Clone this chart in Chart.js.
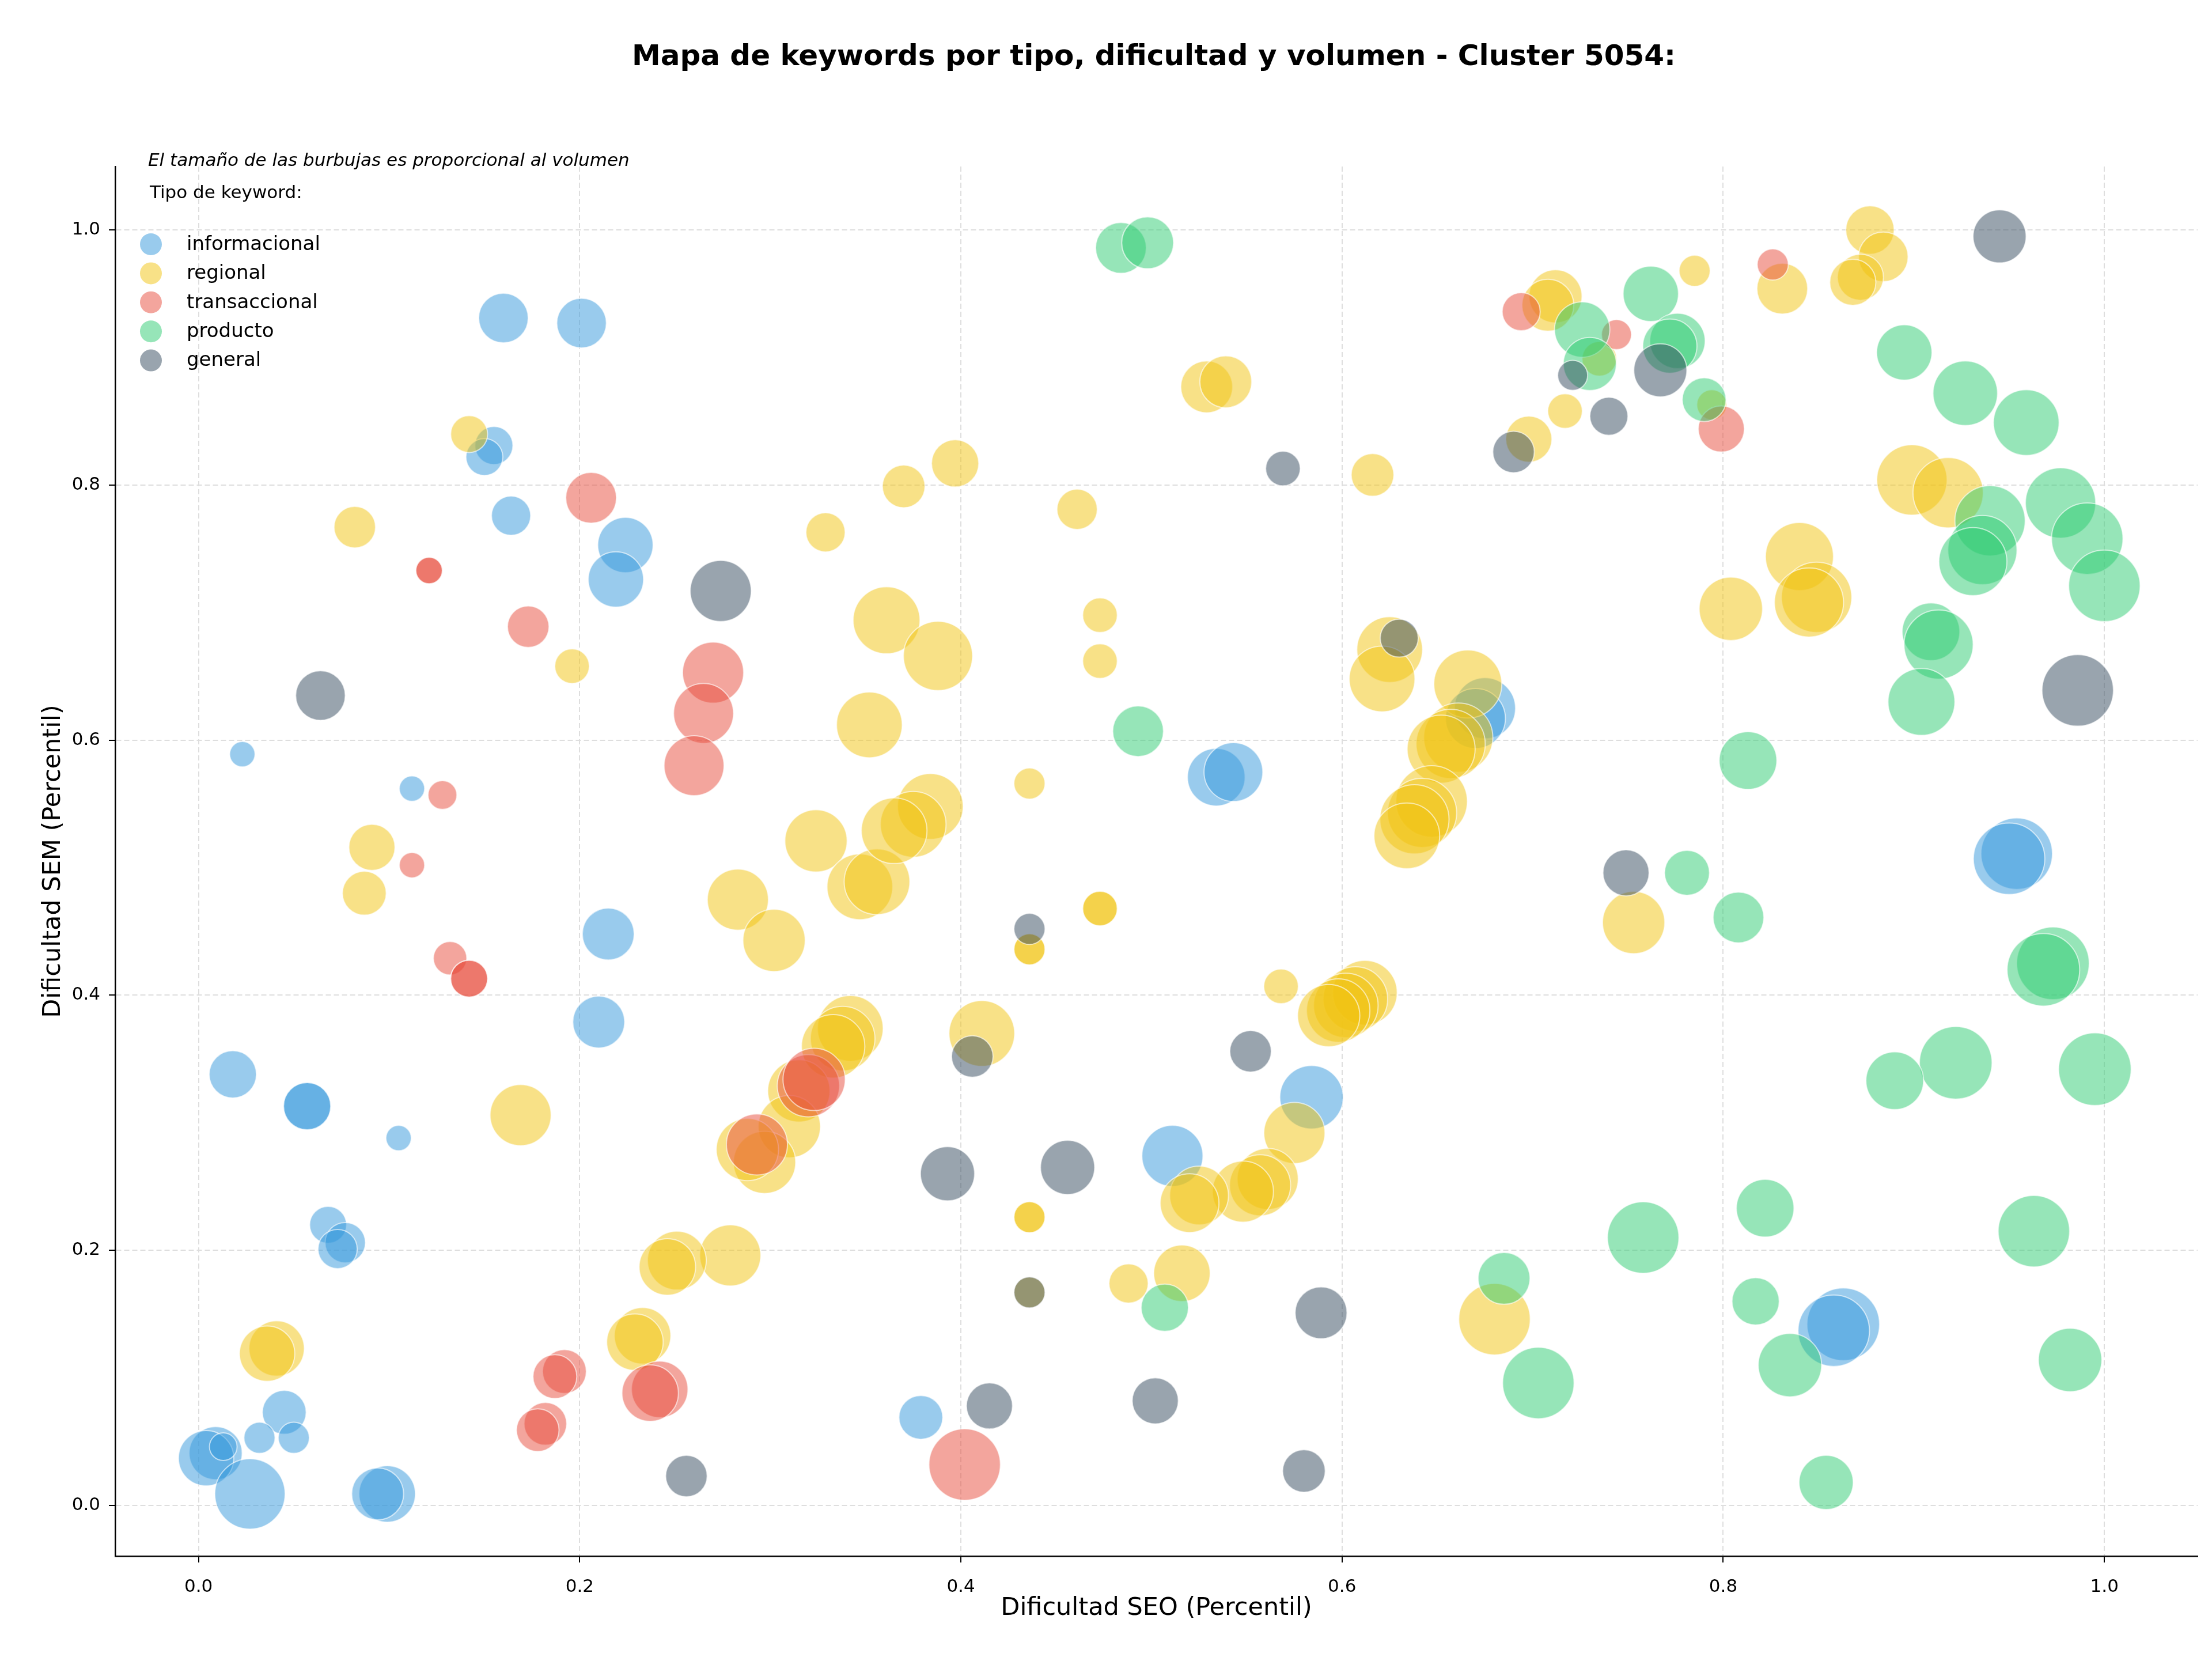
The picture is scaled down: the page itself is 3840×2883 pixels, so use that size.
<!DOCTYPE html>
<html>
<head>
<meta charset="utf-8">
<script src="https://cdn.jsdelivr.net/npm/chart.js@4.4.0/dist/chart.umd.min.js"></script>
<style>
  html, body { margin: 0; padding: 0; background: #fff; overflow: hidden; }
  canvas { display: block; }
</style>
</head>
<body>
<canvas id="keywordChart" width="3840" height="2883"></canvas>
<script>
// Mapa de keywords - Cluster 5054
const titulo = 'Mapa de keywords por tipo, dificultad y volumen - Cluster 5054:';
const nota = 'El tamaño de las burbujas es proporcional al volumen';
const tipos = ['informacional', 'regional', 'transaccional', 'producto', 'general'];
const xTicks = [0, 0.2, 0.4, 0.6, 0.8, 1.0];
const yTicks = [0, 0.2, 0.4, 0.6, 0.8, 1.0];

// informacional
const infoSeo = [0.160, 0.201, 0.155, 0.150, 0.164, 0.224, 0.219, 0.023, 0.112, 0.534, 0.543, 0.675, 0.670, 0.954, 0.950, 0.215, 0.210, 0.018, 0.057, 0.057, 0.105, 0.068, 0.077, 0.073, 0.584, 0.511, 0.863, 0.858, 0.379, 0.045, 0.032, 0.050, 0.009, 0.004, 0.013, 0.027, 0.099, 0.094];
const infoSem = [0.931, 0.927, 0.831, 0.822, 0.776, 0.753, 0.726, 0.589, 0.562, 0.571, 0.575, 0.625, 0.617, 0.511, 0.507, 0.448, 0.379, 0.338, 0.313, 0.313, 0.288, 0.220, 0.206, 0.201, 0.320, 0.274, 0.142, 0.137, 0.069, 0.073, 0.053, 0.053, 0.041, 0.037, 0.046, 0.009, 0.009, 0.009];
const infoVol = [462, 462, 272, 256, 289, 576, 576, 121, 121, 625, 650, 702, 676, 961, 961, 506, 506, 420, 420, 420, 121, 256, 306, 289, 756, 702, 992, 961, 361, 361, 182, 182, 529, 576, 144, 930, 600, 506];

// regional
const regSeo = [0.142, 0.082, 0.329, 0.196, 0.091, 0.324, 0.529, 0.539, 0.616, 0.397, 0.370, 0.461, 0.361, 0.388, 0.352, 0.473, 0.473, 0.436, 0.625, 0.621, 0.666, 0.661, 0.657, 0.652, 0.647, 0.642, 0.638, 0.634, 0.877, 0.884, 0.872, 0.868, 0.831, 0.785, 0.712, 0.708, 0.735, 0.717, 0.794, 0.698, 0.899, 0.918, 0.840, 0.849, 0.845, 0.804, 0.753, 0.680, 0.473, 0.473, 0.436, 0.436, 0.411, 0.568, 0.612, 0.607, 0.602, 0.598, 0.593, 0.575, 0.561, 0.557, 0.548, 0.525, 0.520, 0.436, 0.436, 0.436, 0.488, 0.516, 0.347, 0.356, 0.384, 0.375, 0.365, 0.342, 0.338, 0.333, 0.315, 0.310, 0.297, 0.288, 0.087, 0.283, 0.302, 0.169, 0.279, 0.251, 0.246, 0.041, 0.036, 0.233, 0.229];
const regSem = [0.840, 0.767, 0.763, 0.658, 0.516, 0.521, 0.877, 0.881, 0.808, 0.817, 0.799, 0.781, 0.694, 0.666, 0.612, 0.698, 0.662, 0.566, 0.671, 0.648, 0.644, 0.602, 0.597, 0.593, 0.552, 0.543, 0.538, 0.525, 1.000, 0.979, 0.963, 0.959, 0.954, 0.968, 0.948, 0.941, 0.899, 0.858, 0.863, 0.836, 0.804, 0.794, 0.744, 0.712, 0.708, 0.703, 0.457, 0.146, 0.468, 0.468, 0.436, 0.436, 0.370, 0.407, 0.402, 0.397, 0.392, 0.388, 0.384, 0.292, 0.256, 0.251, 0.246, 0.243, 0.237, 0.226, 0.226, 0.167, 0.174, 0.182, 0.485, 0.489, 0.548, 0.534, 0.529, 0.374, 0.366, 0.360, 0.325, 0.297, 0.269, 0.279, 0.480, 0.475, 0.443, 0.306, 0.196, 0.192, 0.187, 0.123, 0.119, 0.133, 0.128];
const regVol = [256, 324, 289, 225, 400, 729, 506, 506, 342, 420, 342, 306, 841, 900, 812, 225, 225, 182, 812, 812, 870, 900, 900, 870, 961, 900, 900, 812, 441, 462, 400, 400, 484, 182, 529, 506, 225, 225, 169, 400, 930, 930, 870, 930, 900, 756, 729, 961, 225, 225, 182, 182, 812, 225, 784, 784, 784, 756, 729, 702, 702, 702, 702, 650, 650, 182, 182, 182, 289, 600, 812, 812, 812, 812, 812, 812, 784, 756, 729, 729, 729, 729, 361, 702, 729, 702, 702, 650, 600, 576, 576, 600, 600];

// transaccional
const transSeo = [0.206, 0.121, 0.121, 0.173, 0.270, 0.265, 0.260, 0.128, 0.112, 0.132, 0.142, 0.142, 0.320, 0.323, 0.293, 0.192, 0.187, 0.242, 0.237, 0.182, 0.178, 0.402, 0.694, 0.826, 0.744, 0.799];
const transSem = [0.790, 0.733, 0.733, 0.689, 0.653, 0.621, 0.580, 0.557, 0.502, 0.429, 0.413, 0.413, 0.329, 0.334, 0.283, 0.105, 0.101, 0.091, 0.088, 0.064, 0.059, 0.032, 0.936, 0.973, 0.918, 0.844];
const transVol = [484, 132, 132, 324, 702, 676, 676, 156, 121, 210, 256, 256, 729, 729, 702, 361, 361, 600, 600, 342, 342, 961, 272, 182, 169, 400];

// producto
const prodSeo = [0.484, 0.498, 0.493, 0.762, 0.726, 0.776, 0.772, 0.730, 0.790, 0.895, 0.927, 0.959, 0.977, 0.940, 0.991, 0.936, 0.931, 1.000, 0.909, 0.913, 0.904, 0.813, 0.781, 0.808, 0.973, 0.968, 0.922, 0.890, 0.995, 0.758, 0.822, 0.963, 0.817, 0.835, 0.982, 0.703, 0.854, 0.685, 0.507];
const prodSem = [0.986, 0.990, 0.607, 0.950, 0.922, 0.913, 0.909, 0.895, 0.867, 0.904, 0.872, 0.849, 0.786, 0.772, 0.758, 0.749, 0.740, 0.721, 0.685, 0.675, 0.630, 0.584, 0.496, 0.461, 0.425, 0.420, 0.347, 0.333, 0.342, 0.210, 0.233, 0.215, 0.160, 0.110, 0.114, 0.096, 0.018, 0.178, 0.155];
const prodVol = [484, 506, 484, 576, 576, 576, 552, 529, 361, 576, 784, 812, 930, 930, 961, 900, 870, 961, 625, 900, 841, 625, 380, 484, 992, 992, 992, 625, 992, 961, 625, 961, 420, 756, 756, 961, 552, 506, 420];

// general
const genSeo = [0.945, 0.569, 0.274, 0.064, 0.630, 0.721, 0.767, 0.740, 0.690, 0.986, 0.749, 0.436, 0.406, 0.552, 0.393, 0.456, 0.436, 0.589, 0.415, 0.502, 0.580, 0.256];
const genSem = [0.995, 0.813, 0.717, 0.635, 0.680, 0.886, 0.890, 0.854, 0.826, 0.639, 0.496, 0.452, 0.352, 0.356, 0.260, 0.265, 0.167, 0.151, 0.078, 0.082, 0.027, 0.023];
const genVol = [529, 225, 702, 462, 272, 169, 529, 272, 324, 961, 400, 182, 324, 324, 552, 552, 182, 506, 400, 400, 342, 324];

const colores = ['rgba(52,152,219,0.5)', 'rgba(241,196,15,0.5)', 'rgba(231,76,60,0.5)', 'rgba(46,204,113,0.5)', 'rgba(52,73,94,0.5)'];
const fuente = '"DejaVu Sans"';

function burbujas(seo, sem, vol) {
    return seo.map((x, i) => ({ x: x, y: sem[i], r: 2 * Math.sqrt(vol[i]) }));
}

const series = [
    burbujas(infoSeo, infoSem, infoVol),
    burbujas(regSeo, regSem, regVol),
    burbujas(transSeo, transSem, transVol),
    burbujas(prodSeo, prodSem, prodVol),
    burbujas(genSeo, genSem, genVol)
];

// titulo, nota y leyenda dentro del grafico
const textos = {
    id: 'textos',
    afterDraw(chart) {
        const ctx = chart.ctx;
        ctx.save();
        ctx.fillStyle = '#000';
        ctx.textBaseline = 'middle';
        ctx.textAlign = 'center';
        ctx.font = 'bold 50px ' + fuente;
        ctx.fillText(titulo, 2003, 100);
        ctx.textAlign = 'left';
        ctx.font = 'italic 31px ' + fuente;
        ctx.fillText(nota, 257, 280);
        ctx.font = '31px ' + fuente;
        ctx.fillText('Tipo de keyword:', 260, 336);
        tipos.forEach((t, i) => {
            const y = 424 + i * 50.4;
            ctx.beginPath();
            ctx.arc(262, y, 19, 0, Math.PI * 2);
            ctx.fillStyle = colores[i];
            ctx.fill();
            ctx.fillStyle = '#000';
            ctx.font = '34px ' + fuente;
            ctx.fillText(t, 324, y + 1);
        });
        ctx.restore();
    }
};

const ctx1 = document.getElementById('keywordChart').getContext('2d');
const keywordChart = new Chart(ctx1, {
    type: 'bubble',
    data: {
        datasets: tipos.map((t, i) => ({
            label: t,
            data: series[i],
            backgroundColor: colores[i],
            borderColor: 'rgba(255,255,255,0.6)',
            borderWidth: 2,
            order: 5 - i
        }))
    },
    options: {
        responsive: false,
        animation: false,
        events: [],
        layout: { autoPadding: false, padding: { top: 289, right: 25, bottom: 0, left: 0 } },
        plugins: {
            legend: { display: false },
            title: { display: false },
            tooltip: { enabled: false }
        },
        scales: {
            x: {
                type: 'linear',
                min: -0.0437,
                max: 1.0489,
                afterBuildTicks: s => { s.ticks = xTicks.map(v => ({ value: v })); },
                afterFit: s => { s.height = 182; },
                ticks: {
                    callback: v => v.toFixed(1),
                    font: { family: fuente, size: 31 },
                    color: '#000',
                    padding: 24,
                    maxRotation: 0,
                    autoSkip: false
                },
                grid: { color: '#dedede', lineWidth: 2, tickLength: 11, tickColor: '#000', tickWidth: 2 },
                border: { color: '#000', width: 2.5, dash: [9, 5] },
                title: {
                    display: true,
                    text: 'Dificultad SEO (Percentil)',
                    font: { family: fuente, size: 43 },
                    color: '#000',
                    padding: { top: 0, bottom: 65 }
                }
            },
            y: {
                type: 'linear',
                min: -0.0398,
                max: 1.0498,
                afterBuildTicks: s => { s.ticks = yTicks.map(v => ({ value: v })); },
                afterFit: s => { s.width = 200; },
                ticks: {
                    callback: v => v.toFixed(1),
                    font: { family: fuente, size: 31 },
                    color: '#000',
                    padding: 15,
                    autoSkip: false
                },
                grid: { color: '#dedede', lineWidth: 2, tickLength: 11, tickColor: '#000', tickWidth: 2 },
                border: { color: '#000', width: 2.5, dash: [9, 5] },
                title: {
                    display: true,
                    text: 'Dificultad SEM (Percentil)',
                    font: { family: fuente, size: 43 },
                    color: '#000',
                    padding: { top: 67, bottom: 0 }
                }
            }
        }
    },
    plugins: [textos]
});
</script>
</body>
</html>
